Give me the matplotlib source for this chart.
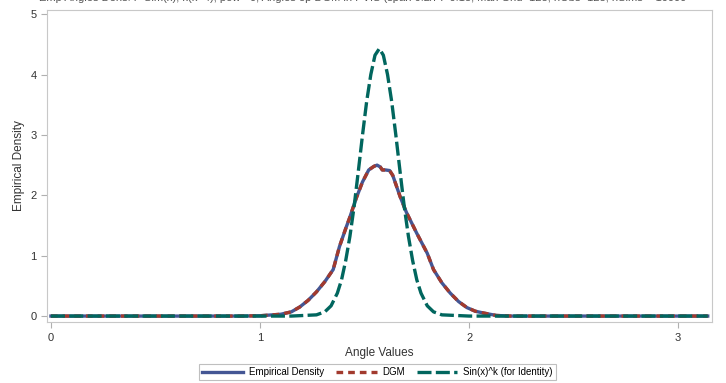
import numpy as np
import matplotlib
matplotlib.use("Agg")
import matplotlib.pyplot as plt

plt.rcParams['font.family'] = ['Liberation Sans', 'DejaVu Sans']

# values
emp_x = [0.0, 0.9, 1.0, 1.1, 1.15, 1.19, 1.23, 1.27, 1.31, 1.35, 1.38, 1.41, 1.43,
         1.46, 1.49, 1.52, 1.545, 1.56, 1.575, 1.585, 1.60, 1.62, 1.635, 1.65,
         1.67, 1.70, 1.75, 1.80, 1.83, 1.87, 1.91, 1.95, 1.99, 2.03, 2.07, 2.13,
         2.2, 3.1416]
emp_y = [0.0, 0.0, 0.005, 0.03, 0.07, 0.15, 0.26, 0.40, 0.57, 0.77, 1.15, 1.45, 1.64,
         1.95, 2.22, 2.42, 2.48, 2.50, 2.47, 2.42, 2.42, 2.41, 2.33, 2.18,
         1.98, 1.72, 1.37, 1.04, 0.77, 0.55, 0.38, 0.24, 0.14, 0.08, 0.05, 0.01,
         0.0, 0.0]
dgm_x = emp_x
dgm_y = emp_y

sin_x = [0.0, 1.15, 1.27, 1.31, 1.34, 1.37, 1.39, 1.41, 1.43, 1.45, 1.47, 1.49,
         1.51, 1.53, 1.55, 1.5708, 1.59, 1.61, 1.63, 1.65, 1.67, 1.69, 1.71,
         1.73, 1.75, 1.77, 1.80, 1.83, 1.87, 2.0, 3.1416]
sin_y = [0.0, 0.0, 0.02, 0.07, 0.17, 0.38, 0.60, 0.92, 1.32, 1.81, 2.39, 2.99,
         3.55, 4.00, 4.32, 4.43, 4.32, 4.00, 3.55, 2.99, 2.39, 1.81, 1.32,
         0.92, 0.60, 0.38, 0.17, 0.07, 0.02, 0.0, 0.0]

x_ticks = [0, 1, 2, 3]
y_ticks = [0, 1, 2, 3, 4, 5]

title = ("Emp Angles Dens: P Sim(x), k(k=4), pow= 0, Angles ep DGM in PVIS "
         "(span 0.2/Pi=0.13, Max Grid=128, nObs=128, nSims = 10000")

fig = plt.figure(figsize=(7.26, 3.83), dpi=100)
ax = fig.add_axes([0.0647, 0.159, 0.9163, 0.815])

ax.plot(emp_x, emp_y, color="#445694", lw=2.4, label="Empirical Density", zorder=3)
ax.plot(dgm_x, dgm_y, color="#A23A2E", lw=2.4, dashes=(2, 1.5), label="DGM", zorder=4)
ax.plot(sin_x, sin_y, color="#01665E", lw=2.4, dashes=(4.2, 1.3),
        label="Sin(x)^k (for Identity)", zorder=5)

ax.set_xlim(-0.019, 3.163)
ax.set_ylim(-0.1, 5.07)
ax.set_xticks(x_ticks)
ax.set_yticks(y_ticks)
ax.tick_params(colors="#b0b0b0", labelcolor="#333333", labelsize=8, length=4)
for s in ax.spines.values():
    s.set_color("#c8c8c8")
ax.set_xlabel("Angle Values", fontsize=8.5, color="#333333", labelpad=3)
ax.set_ylabel("Empirical Density", fontsize=8.5, color="#333333", labelpad=4)

# title is cut off at the top edge in the reference as well
fig.text(0.5, 1.006, title, ha="center", va="center", fontsize=8, color="#555555")

leg = fig.legend(loc="lower center", bbox_to_anchor=(0.52, -0.005), ncol=3,
                 fontsize=7, frameon=True, fancybox=False, handlelength=4.2,
                 columnspacing=1.2, handletextpad=0.6, borderpad=0.3)
leg.get_frame().set_edgecolor("#b0b0b0")
leg.get_frame().set_linewidth(0.8)

fig.savefig("out.png", dpi=100)
